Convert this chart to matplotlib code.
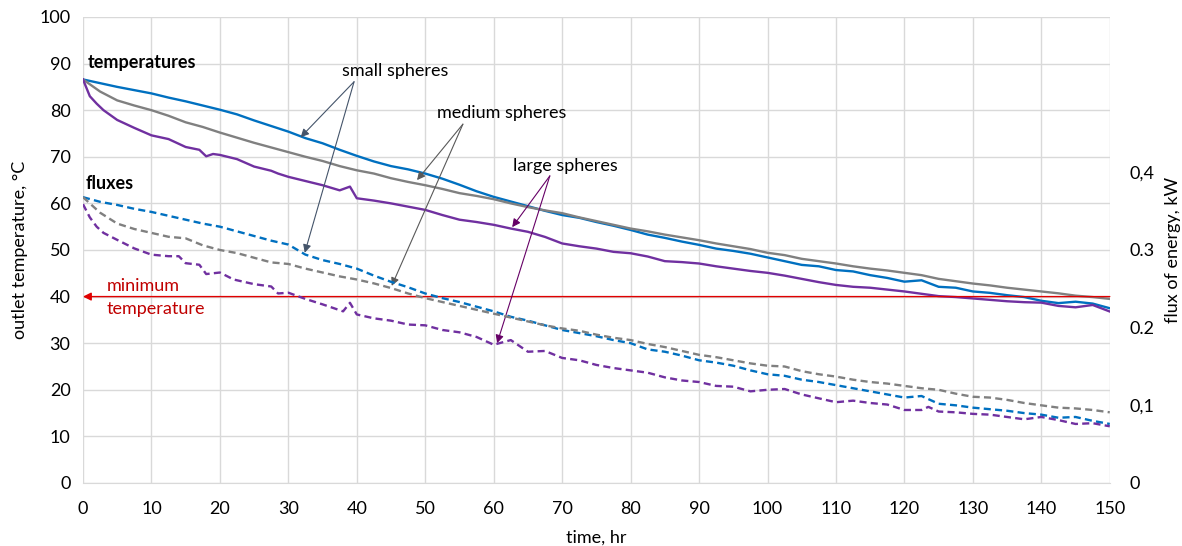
import matplotlib.pyplot as plt
import numpy as np

plt.rcParams['font.family'] = ['Lato', 'DejaVu Sans']

# time grid (hr) for most series
t = np.arange(0, 150.1, 2.5)

# outlet temperatures, °C
small_temp = [86.6, 85.8, 85.0, 84.3, 83.6, 82.7, 81.9, 81.0, 80.1, 79.1, 77.8, 76.6,
              75.4, 74.0, 72.9, 71.5, 70.2, 69.0, 68.0, 67.3, 66.4, 65.3, 64.0, 62.6,
              61.4, 60.4, 59.4, 58.4, 57.5, 56.9, 56.0, 55.2, 54.3, 53.3, 52.6, 51.8,
              51.1, 50.3, 49.8, 49.2, 48.4, 47.6, 46.8, 46.5, 45.7, 45.4, 44.6, 44.0,
              43.2, 43.5, 42.1, 41.9, 41.1, 40.8, 40.3, 39.9, 39.1, 38.6, 38.9, 38.5, 37.5]
medium_temp = [86.6, 84.0, 82.1, 81.0, 80.0, 78.8, 77.4, 76.4, 75.2, 74.1, 73.0, 72.0,
               71.0, 70.0, 69.1, 68.0, 67.1, 66.4, 65.4, 64.6, 63.9, 63.1, 62.2, 61.6,
               60.9, 60.0, 59.2, 58.5, 57.9, 57.0, 56.2, 55.4, 54.6, 54.0, 53.3, 52.7,
               52.1, 51.4, 50.8, 50.2, 49.4, 48.9, 48.1, 47.6, 47.1, 46.5, 46.0, 45.6,
               45.1, 44.6, 43.8, 43.3, 42.8, 42.4, 41.9, 41.5, 41.1, 40.7, 40.2, 39.9, 39.5]
t_large = [0, 1, 2, 3, 5, 7.5, 10, 12.5, 15, 17, 18, 19, 20, 22.5, 25, 27.5, 28.5, 30,
           32.5, 35, 37.5, 39, 40, 42.5, 45, 47.5, 50, 52.5, 55, 57.5, 60, 62.5, 65,
           67.5, 70, 72.5, 75, 77.5, 80, 82.5, 85, 87.5, 90, 92.5, 95, 97.5, 100,
           102.5, 105, 107.5, 110, 112.5, 115, 117.5, 120, 122.5, 125, 127.5, 130,
           132.5, 135, 137.5, 140, 142.5, 145, 147.5, 150]
large_temp = [86.6, 83.0, 81.4, 80.0, 77.9, 76.2, 74.6, 73.8, 72.1, 71.5, 70.1, 70.6,
              70.4, 69.5, 67.9, 67.0, 66.4, 65.7, 64.8, 63.9, 62.8, 63.6, 61.1, 60.6,
              60.0, 59.3, 58.6, 57.5, 56.5, 56.0, 55.4, 54.6, 53.9, 52.8, 51.4, 50.8,
              50.3, 49.6, 49.3, 48.6, 47.6, 47.4, 47.1, 46.5, 46.0, 45.5, 45.1, 44.5,
              43.8, 43.1, 42.5, 42.1, 41.9, 41.5, 41.1, 40.6, 40.1, 39.9, 39.6, 39.3,
              39.0, 38.8, 38.7, 38.0, 37.7, 38.2, 36.8]

# flux of energy, kW
small_flux = [0.368, 0.362, 0.358, 0.353, 0.349, 0.344, 0.339, 0.334, 0.330, 0.324, 0.318,
              0.312, 0.307, 0.294, 0.287, 0.282, 0.276, 0.267, 0.259, 0.252, 0.244, 0.238,
              0.233, 0.227, 0.221, 0.214, 0.209, 0.203, 0.197, 0.193, 0.189, 0.184, 0.180,
              0.172, 0.169, 0.164, 0.158, 0.155, 0.151, 0.145, 0.140, 0.138, 0.133, 0.130,
              0.126, 0.122, 0.118, 0.114, 0.110, 0.112, 0.102, 0.100, 0.097, 0.095, 0.093,
              0.090, 0.088, 0.084, 0.085, 0.080, 0.076]
medium_flux = [0.368, 0.348, 0.334, 0.327, 0.322, 0.317, 0.315, 0.306, 0.300, 0.296, 0.290,
               0.284, 0.282, 0.276, 0.271, 0.266, 0.262, 0.257, 0.251, 0.244, 0.238, 0.233,
               0.228, 0.223, 0.218, 0.213, 0.208, 0.203, 0.199, 0.196, 0.191, 0.187, 0.184,
               0.179, 0.175, 0.170, 0.165, 0.162, 0.158, 0.154, 0.151, 0.150, 0.144, 0.140,
               0.137, 0.133, 0.130, 0.128, 0.125, 0.122, 0.120, 0.115, 0.111, 0.110, 0.107,
               0.103, 0.100, 0.097, 0.096, 0.094, 0.091]
t_large_flux = [0, 1, 2, 3, 5, 7.5, 10, 12.5, 14, 15, 17, 18, 20, 22, 25, 27.5, 28.5, 30,
                32.5, 35, 37, 38, 39, 40, 42.5, 45, 47.5, 50, 52.5, 55, 57.5, 60, 62.5, 65,
                67.5, 70, 72.5, 75, 77.5, 80, 82.5, 85, 87.5, 90, 92.5, 95, 97.5, 100,
                102.5, 105, 107.5, 110, 112.5, 115, 117.5, 120, 122.5, 123.5, 125, 127.5,
                130, 132.5, 135, 137.5, 140, 142.5, 145, 147.5, 150]
large_flux = [0.359, 0.342, 0.330, 0.322, 0.313, 0.302, 0.294, 0.292, 0.292, 0.283, 0.281,
              0.269, 0.271, 0.262, 0.256, 0.253, 0.244, 0.245, 0.237, 0.230, 0.224, 0.221,
              0.232, 0.217, 0.212, 0.209, 0.204, 0.203, 0.197, 0.194, 0.188, 0.178, 0.184,
              0.169, 0.170, 0.161, 0.158, 0.152, 0.148, 0.145, 0.142, 0.136, 0.132, 0.130,
              0.125, 0.124, 0.118, 0.120, 0.121, 0.114, 0.109, 0.104, 0.106, 0.103, 0.101,
              0.094, 0.094, 0.098, 0.092, 0.091, 0.089, 0.088, 0.085, 0.082, 0.085, 0.081,
              0.076, 0.077, 0.073]

min_temp = 40

blue = '#0070c0'
grey = '#808080'
purple = '#7030a0'
fs = 13

fig = plt.figure(figsize=(11.82, 5.46), dpi=100)
ax = fig.add_axes([0.0702, 0.1154, 0.8687, 0.8535])
ax2 = ax.twinx()

ax.plot(t, small_temp, color=blue, lw=1.7)
ax.plot(t, medium_temp, color=grey, lw=1.7)
ax.plot(t_large, large_temp, color=purple, lw=1.7)

ax2.plot(t, small_flux, color=blue, lw=1.7, ls=(0, (3, 1.8)))
ax2.plot(t, medium_flux, color=grey, lw=1.7, ls=(0, (3, 1.8)))
ax2.plot(t_large_flux, large_flux, color=purple, lw=1.7, ls=(0, (3, 1.8)))

ax.set_xlim(0, 150)
ax.set_ylim(0, 100)
ax2.set_ylim(0, 0.6)
ax.set_xticks(range(0, 151, 10))
ax.set_yticks(range(0, 101, 10))
ax2.set_yticks([0, 0.1, 0.2, 0.3, 0.4])
ax2.set_yticklabels(['0', '0,1', '0.2', '0.3', '0,4'])

ax.grid(True, color='#d9d9d9', lw=1)
ax.set_axisbelow(True)
for a in (ax, ax2):
    for s in a.spines.values():
        s.set_visible(False)
    a.tick_params(length=0, labelsize=fs, colors='#000000')
ax.spines['bottom'].set_visible(True)
ax.spines['bottom'].set_color('#d9d9d9')
ax.tick_params(axis='x', pad=13)
ax.tick_params(axis='y', pad=9)
ax2.tick_params(axis='y', pad=14)

ax.set_xlabel('time, hr', fontsize=fs, labelpad=9)
ax.set_ylabel('outlet temperature, °C', fontsize=fs, labelpad=8)
ax2.set_ylabel('flux of energy, kW', fontsize=fs, labelpad=8)

# minimum temperature line
ax.annotate('', xy=(0, min_temp), xytext=(150, min_temp),
            arrowprops=dict(arrowstyle='-|>', color='#e00000', lw=1,
                            mutation_scale=12, shrinkA=0, shrinkB=0))
ax.text(3.5, 42.2, 'minimum', color='#c00000', fontsize=fs, va='center')
ax.text(3.5, 37.3, 'temperature', color='#c00000', fontsize=fs, va='center')

ax.text(0.7, 90.2, 'temperatures', fontsize=fs, fontweight='bold', va='center')
ax.text(0.4, 64.2, 'fluxes', fontsize=fs, fontweight='bold', va='center')

# sphere labels with arrows
labels = [
    ('small spheres', (45.6, 88.4), (39.6, 86.1), [(31.8, 74.2), (32.4, 49.4)], '#44546a'),
    ('medium spheres', (61.2, 79.4), (55.5, 77.0), [(48.8, 65.0), (45.1, 42.3)], '#595959'),
    ('large spheres', (70.5, 68.0), (68.2, 65.9), [(62.7, 54.9), (60.5, 30.0)], '#660066'),
]
for txt, pos, origin, heads, col in labels:
    ax.text(pos[0], pos[1], txt, fontsize=fs, ha='center', va='center')
    for h in heads:
        ax.annotate('', xy=h, xytext=origin,
                    arrowprops=dict(arrowstyle='-|>', color=col, lw=0.8,
                                    mutation_scale=12, shrinkA=0, shrinkB=0))

fig.savefig('out.png', dpi=100)
